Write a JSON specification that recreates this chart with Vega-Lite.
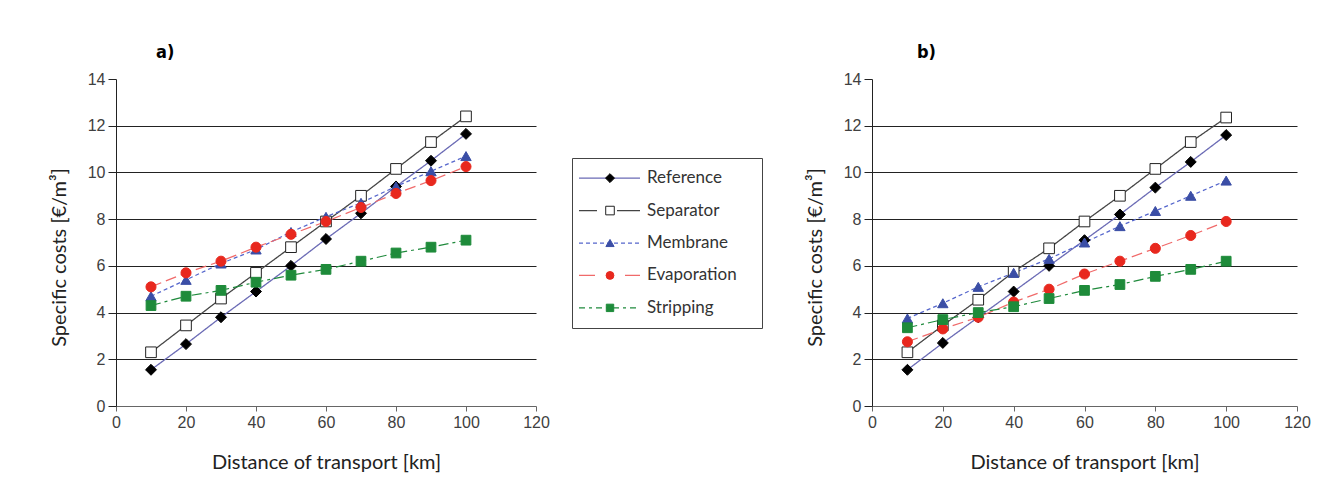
{
  "$schema": "https://vega.github.io/schema/vega-lite/v6.json",
  "padding": {"left": 49, "top": 44, "right": 5, "bottom": 5},
  "background": "white",
  "spacing": 21,
  "config": {
    "view": {"stroke": null},
    "axis": {
      "labelFont": "Liberation Sans",
      "labelFontSize": 16,
      "labelColor": "#404040",
      "titleFont": "Lato",
      "titleFontSize": 20,
      "titleFontWeight": "normal",
      "titleColor": "#222222"
    },
    "title": {"font": "Liberation Sans Narrow, DejaVu Sans Condensed, Roboto", "fontSize": 18, "fontWeight": "bold", "anchor": "start", "frame": "group", "color": "#000000"}
  },
  "datasets": {
    "costs": [
      {"p":"a","s":"Reference","x":10,"y":1.55},{"p":"a","s":"Reference","x":20,"y":2.65},{"p":"a","s":"Reference","x":30,"y":3.8},{"p":"a","s":"Reference","x":40,"y":4.9},{"p":"a","s":"Reference","x":50,"y":6.0},{"p":"a","s":"Reference","x":60,"y":7.15},{"p":"a","s":"Reference","x":70,"y":8.25},{"p":"a","s":"Reference","x":80,"y":9.4},{"p":"a","s":"Reference","x":90,"y":10.5},{"p":"a","s":"Reference","x":100,"y":11.65},
      {"p":"a","s":"Separator","x":10,"y":2.3},{"p":"a","s":"Separator","x":20,"y":3.45},{"p":"a","s":"Separator","x":30,"y":4.6},{"p":"a","s":"Separator","x":40,"y":5.7},{"p":"a","s":"Separator","x":50,"y":6.8},{"p":"a","s":"Separator","x":60,"y":7.9},{"p":"a","s":"Separator","x":70,"y":9.0},{"p":"a","s":"Separator","x":80,"y":10.15},{"p":"a","s":"Separator","x":90,"y":11.3},{"p":"a","s":"Separator","x":100,"y":12.4},
      {"p":"a","s":"Membrane","x":10,"y":4.7},{"p":"a","s":"Membrane","x":20,"y":5.4},{"p":"a","s":"Membrane","x":30,"y":6.1},{"p":"a","s":"Membrane","x":40,"y":6.7},{"p":"a","s":"Membrane","x":50,"y":7.45},{"p":"a","s":"Membrane","x":60,"y":8.1},{"p":"a","s":"Membrane","x":70,"y":8.7},{"p":"a","s":"Membrane","x":80,"y":9.4},{"p":"a","s":"Membrane","x":90,"y":10.05},{"p":"a","s":"Membrane","x":100,"y":10.7},
      {"p":"a","s":"Evaporation","x":10,"y":5.1},{"p":"a","s":"Evaporation","x":20,"y":5.7},{"p":"a","s":"Evaporation","x":30,"y":6.2},{"p":"a","s":"Evaporation","x":40,"y":6.8},{"p":"a","s":"Evaporation","x":50,"y":7.35},{"p":"a","s":"Evaporation","x":60,"y":7.9},{"p":"a","s":"Evaporation","x":70,"y":8.5},{"p":"a","s":"Evaporation","x":80,"y":9.1},{"p":"a","s":"Evaporation","x":90,"y":9.65},{"p":"a","s":"Evaporation","x":100,"y":10.25},
      {"p":"a","s":"Stripping","x":10,"y":4.3},{"p":"a","s":"Stripping","x":20,"y":4.7},{"p":"a","s":"Stripping","x":30,"y":4.95},{"p":"a","s":"Stripping","x":40,"y":5.3},{"p":"a","s":"Stripping","x":50,"y":5.6},{"p":"a","s":"Stripping","x":60,"y":5.85},{"p":"a","s":"Stripping","x":70,"y":6.2},{"p":"a","s":"Stripping","x":80,"y":6.55},{"p":"a","s":"Stripping","x":90,"y":6.8},{"p":"a","s":"Stripping","x":100,"y":7.1},
      {"p":"b","s":"Reference","x":10,"y":1.55},{"p":"b","s":"Reference","x":20,"y":2.7},{"p":"b","s":"Reference","x":30,"y":3.8},{"p":"b","s":"Reference","x":40,"y":4.9},{"p":"b","s":"Reference","x":50,"y":6.0},{"p":"b","s":"Reference","x":60,"y":7.1},{"p":"b","s":"Reference","x":70,"y":8.2},{"p":"b","s":"Reference","x":80,"y":9.35},{"p":"b","s":"Reference","x":90,"y":10.45},{"p":"b","s":"Reference","x":100,"y":11.6},
      {"p":"b","s":"Separator","x":10,"y":2.3},{"p":"b","s":"Separator","x":20,"y":3.45},{"p":"b","s":"Separator","x":30,"y":4.55},{"p":"b","s":"Separator","x":40,"y":5.75},{"p":"b","s":"Separator","x":50,"y":6.75},{"p":"b","s":"Separator","x":60,"y":7.9},{"p":"b","s":"Separator","x":70,"y":9.0},{"p":"b","s":"Separator","x":80,"y":10.15},{"p":"b","s":"Separator","x":90,"y":11.3},{"p":"b","s":"Separator","x":100,"y":12.35},
      {"p":"b","s":"Membrane","x":10,"y":3.75},{"p":"b","s":"Membrane","x":20,"y":4.4},{"p":"b","s":"Membrane","x":30,"y":5.1},{"p":"b","s":"Membrane","x":40,"y":5.7},{"p":"b","s":"Membrane","x":50,"y":6.3},{"p":"b","s":"Membrane","x":60,"y":7.0},{"p":"b","s":"Membrane","x":70,"y":7.7},{"p":"b","s":"Membrane","x":80,"y":8.35},{"p":"b","s":"Membrane","x":90,"y":9.0},{"p":"b","s":"Membrane","x":100,"y":9.65},
      {"p":"b","s":"Evaporation","x":10,"y":2.75},{"p":"b","s":"Evaporation","x":20,"y":3.3},{"p":"b","s":"Evaporation","x":30,"y":3.8},{"p":"b","s":"Evaporation","x":40,"y":4.45},{"p":"b","s":"Evaporation","x":50,"y":5.0},{"p":"b","s":"Evaporation","x":60,"y":5.65},{"p":"b","s":"Evaporation","x":70,"y":6.2},{"p":"b","s":"Evaporation","x":80,"y":6.75},{"p":"b","s":"Evaporation","x":90,"y":7.3},{"p":"b","s":"Evaporation","x":100,"y":7.9},
      {"p":"b","s":"Stripping","x":10,"y":3.35},{"p":"b","s":"Stripping","x":20,"y":3.7},{"p":"b","s":"Stripping","x":30,"y":4.0},{"p":"b","s":"Stripping","x":40,"y":4.25},{"p":"b","s":"Stripping","x":50,"y":4.6},{"p":"b","s":"Stripping","x":60,"y":4.95},{"p":"b","s":"Stripping","x":70,"y":5.2},{"p":"b","s":"Stripping","x":80,"y":5.55},{"p":"b","s":"Stripping","x":90,"y":5.85},{"p":"b","s":"Stripping","x":100,"y":6.2}
    ]
  },
  "hconcat": [
    {
      "width": 420, "height": 327,
      "title": {"text": "a)", "dx": 40, "offset": 9},
      "data": {"name": "costs"},
      "transform": [{"filter": "datum.p === 'a'"}],
      "encoding": {
        "x": {"field": "x", "type": "quantitative", "scale": {"domain": [0, 120], "nice": false},
              "axis": {"values": [0,20,40,60,80,100,120], "title": "Distance of transport [km]", "grid": false, "labelFlush": false, "domainColor": "#666666", "tickColor": "#666666", "tickSize": 5, "labelPadding": 3, "titlePadding": 22}},
        "y": {"field": "y", "type": "quantitative", "scale": {"domain": [0, 14], "nice": false},
              "axis": {"values": [0,2,4,6,8,10,12,14], "title": "Specific costs [€/m³]", "titleY": 178, "grid": true, "gridColor": "#222222", "gridWidth": 1.2,
                       "gridOpacity": {"condition": {"test": "datum.value === 14 || datum.value === 0", "value": 0}, "value": 1},
                       "domainColor": "#222222", "tickColor": "#222222", "tickSize": 8, "labelPadding": 3, "titlePadding": 18}}
      },
      "layer": [
        {"mark": {"type": "line"},
         "encoding": {
           "color": {"field": "s", "type": "nominal", "scale": {"domain": ["Reference","Separator","Membrane","Evaporation","Stripping"], "range": ["#6b6bb5","#444444","#5566cc","#f06a6a","#1f8a3c"]}, "legend": null},
           "strokeDash": {"field": "s", "type": "nominal", "scale": {"domain": ["Reference","Separator","Membrane","Evaporation","Stripping"], "range": [[1,0],[1,0],[4,3],[11,5],[10,4,3,4]]}, "legend": null},
           "strokeWidth": {"field": "s", "type": "nominal", "scale": {"domain": ["Reference","Separator","Membrane","Evaporation","Stripping"], "range": [1.3,1.2,1.5,1.4,2.3]}, "legend": null}
         }},
        {"mark": {"type": "point", "opacity": 1, "strokeWidth": 1, "filled": true},
         "encoding": {
           "fill": {"field": "s", "type": "nominal", "scale": {"domain": ["Reference","Separator","Membrane","Evaporation","Stripping"], "range": ["#000000","#ffffff","#3b4ea6","#e8281e","#1e8b3a"]}, "legend": null},
           "stroke": {"field": "s", "type": "nominal", "scale": {"domain": ["Reference","Separator","Membrane","Evaporation","Stripping"], "range": ["#000000","#222222","#3b4ea6","#e8281e","#1e8b3a"]}, "legend": null},
           "shape": {"field": "s", "type": "nominal", "scale": {"domain": ["Reference","Separator","Membrane","Evaporation","Stripping"], "range": ["diamond","square","triangle-up","circle","square"]}, "legend": null},
           "size": {"field": "s", "type": "nominal", "scale": {"domain": ["Reference","Separator","Membrane","Evaporation","Stripping"], "range": [120,95,100,90,85]}, "legend": null}
         }}
      ]
    },
    {
      "spacing": 20,
      "vconcat": [
        {"width": 212, "height": 58, "data": {"values": []}, "mark": "point", "view": {"stroke": null}},
        {
          "width": 190, "height": 170,
          "view": {"stroke": "#444444", "strokeWidth": 1},
          "data": {"name": "costs"},
          "transform": [{"filter": "datum.p === 'a' && datum.x === 10"}],
          "encoding": {
            "y": {"field": "s", "type": "nominal", "sort": ["Reference","Separator","Membrane","Evaporation","Stripping"], "scale": {"type": "point", "padding": 0.62}, "axis": null}
          },
          "layer": [
            {"mark": {"type": "rule"},
             "encoding": {
               "x": {"datum": 7, "type": "quantitative", "scale": {"domain": [0, 190], "nice": false}, "axis": null},
               "x2": {"datum": 68},
               "color": {"field": "s", "type": "nominal", "scale": {"domain": ["Reference","Separator","Membrane","Evaporation","Stripping"], "range": ["#6b6bb5","#444444","#5566cc","#f06a6a","#1f8a3c"]}, "legend": null},
               "strokeDash": {"field": "s", "type": "nominal", "scale": {"domain": ["Reference","Separator","Membrane","Evaporation","Stripping"], "range": [[1,0],[18,20,23,0],[4,3],[16,30,15,0],[6,4,3,4]]}, "legend": null},
               "strokeWidth": {"field": "s", "type": "nominal", "scale": {"domain": ["Reference","Separator","Membrane","Evaporation","Stripping"], "range": [1.3,1.2,1.5,1.4,2.3]}, "legend": null}
             }},
            {"mark": {"type": "point", "opacity": 1, "strokeWidth": 1, "filled": true},
             "encoding": {
               "x": {"datum": 38, "type": "quantitative"},
               "fill": {"field": "s", "type": "nominal", "scale": {"domain": ["Reference","Separator","Membrane","Evaporation","Stripping"], "range": ["#000000","#ffffff","#3b4ea6","#e8281e","#1e8b3a"]}, "legend": null},
               "stroke": {"field": "s", "type": "nominal", "scale": {"domain": ["Reference","Separator","Membrane","Evaporation","Stripping"], "range": ["#000000","#222222","#3b4ea6","#e8281e","#1e8b3a"]}, "legend": null},
               "shape": {"field": "s", "type": "nominal", "scale": {"domain": ["Reference","Separator","Membrane","Evaporation","Stripping"], "range": ["diamond","square","triangle-up","circle","square"]}, "legend": null},
               "size": {"field": "s", "type": "nominal", "scale": {"domain": ["Reference","Separator","Membrane","Evaporation","Stripping"], "range": [80,55,80,70,65]}, "legend": null}
             }},
            {"mark": {"type": "text", "align": "left", "baseline": "middle", "font": "Lato", "fontSize": 17, "color": "#333333"},
             "encoding": {
               "x": {"datum": 75, "type": "quantitative"},
               "text": {"field": "s", "type": "nominal"}
             }}
          ]
        }
      ]
    },
    {
      "width": 425, "height": 327,
      "title": {"text": "b)", "dx": 45, "offset": 9},
      "data": {"name": "costs"},
      "transform": [{"filter": "datum.p === 'b'"}],
      "encoding": {
        "x": {"field": "x", "type": "quantitative", "scale": {"domain": [0, 120], "nice": false},
              "axis": {"values": [0,20,40,60,80,100,120], "title": "Distance of transport [km]", "grid": false, "labelFlush": false, "domainColor": "#666666", "tickColor": "#666666", "tickSize": 5, "labelPadding": 3, "titlePadding": 22}},
        "y": {"field": "y", "type": "quantitative", "scale": {"domain": [0, 14], "nice": false},
              "axis": {"values": [0,2,4,6,8,10,12,14], "title": "Specific costs [€/m³]", "titleY": 178, "grid": true, "gridColor": "#222222", "gridWidth": 1.2,
                       "gridOpacity": {"condition": {"test": "datum.value === 14 || datum.value === 0", "value": 0}, "value": 1},
                       "domainColor": "#222222", "tickColor": "#222222", "tickSize": 8, "labelPadding": 3, "titlePadding": 18}}
      },
      "layer": [
        {"mark": {"type": "line"},
         "encoding": {
           "color": {"field": "s", "type": "nominal", "scale": {"domain": ["Reference","Separator","Membrane","Evaporation","Stripping"], "range": ["#6b6bb5","#444444","#5566cc","#f06a6a","#1f8a3c"]}, "legend": null},
           "strokeDash": {"field": "s", "type": "nominal", "scale": {"domain": ["Reference","Separator","Membrane","Evaporation","Stripping"], "range": [[1,0],[1,0],[4,3],[11,5],[10,4,3,4]]}, "legend": null},
           "strokeWidth": {"field": "s", "type": "nominal", "scale": {"domain": ["Reference","Separator","Membrane","Evaporation","Stripping"], "range": [1.3,1.2,1.5,1.4,2.3]}, "legend": null}
         }},
        {"mark": {"type": "point", "opacity": 1, "strokeWidth": 1, "filled": true},
         "encoding": {
           "fill": {"field": "s", "type": "nominal", "scale": {"domain": ["Reference","Separator","Membrane","Evaporation","Stripping"], "range": ["#000000","#ffffff","#3b4ea6","#e8281e","#1e8b3a"]}, "legend": null},
           "stroke": {"field": "s", "type": "nominal", "scale": {"domain": ["Reference","Separator","Membrane","Evaporation","Stripping"], "range": ["#000000","#222222","#3b4ea6","#e8281e","#1e8b3a"]}, "legend": null},
           "shape": {"field": "s", "type": "nominal", "scale": {"domain": ["Reference","Separator","Membrane","Evaporation","Stripping"], "range": ["diamond","square","triangle-up","circle","square"]}, "legend": null},
           "size": {"field": "s", "type": "nominal", "scale": {"domain": ["Reference","Separator","Membrane","Evaporation","Stripping"], "range": [120,95,100,90,85]}, "legend": null}
         }}
      ]
    }
  ],
  "resolve": {"scale": {"color": "independent", "fill": "independent", "stroke": "independent", "shape": "independent", "size": "independent", "strokeDash": "independent", "strokeWidth": "independent"}}
}
